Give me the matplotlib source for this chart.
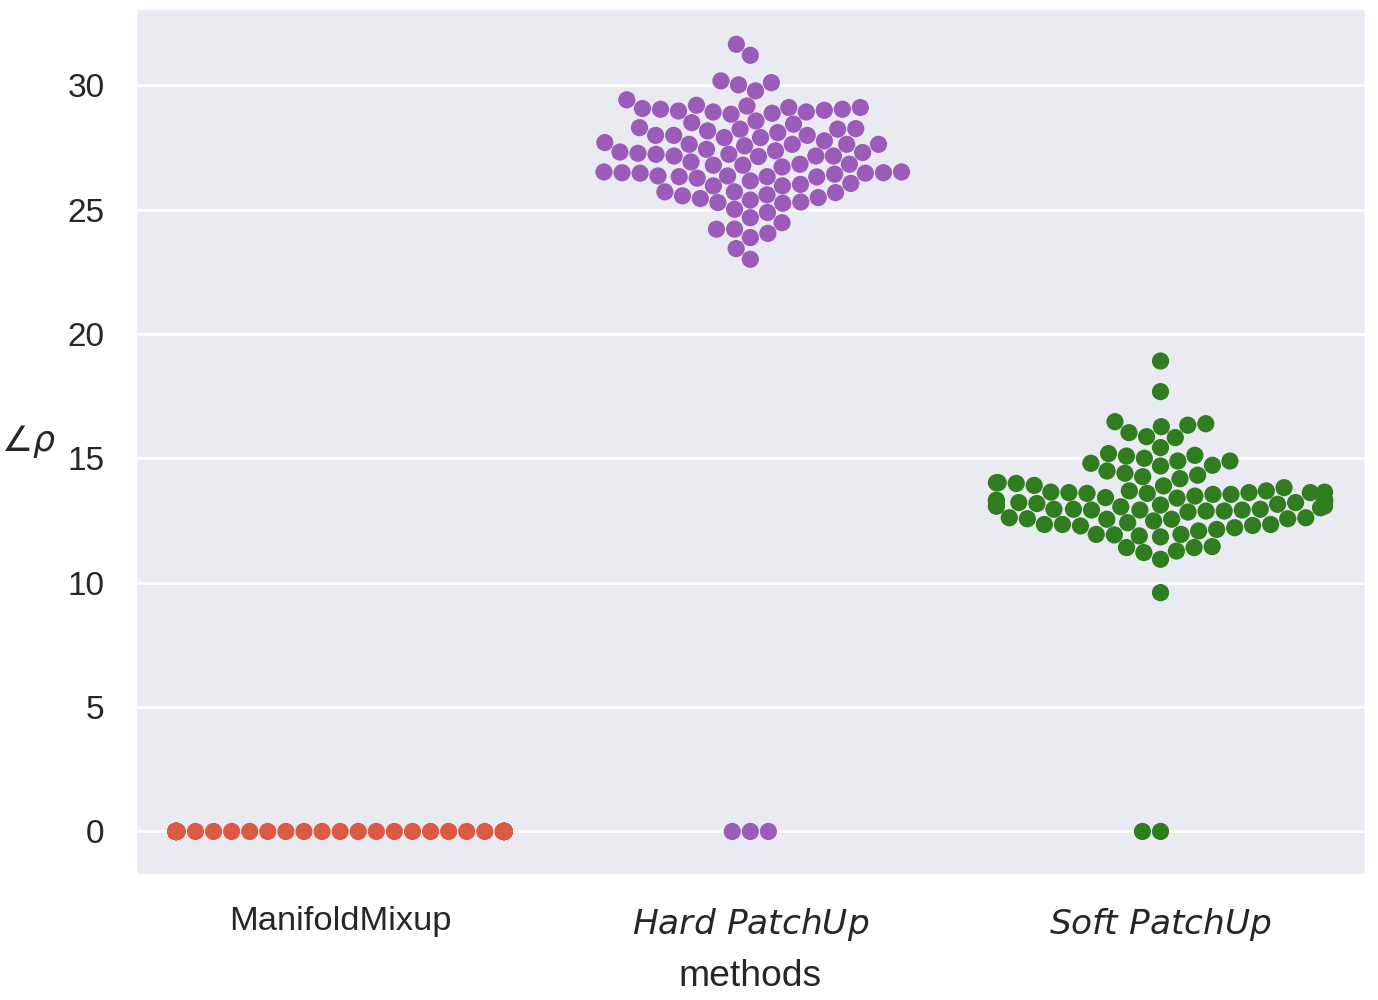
import warnings

import matplotlib
matplotlib.use("Agg")
import matplotlib.pyplot as plt
import pandas as pd
import seaborn as sns

# values
METHODS = ["ManifoldMixup", "Hard PatchUp", "Soft PatchUp"]
TICK_LABELS = ["ManifoldMixup", r"$Hard\ PatchUp$", r"$Soft\ PatchUp$"]
COLORS = ["#da5a45", "#9a5cb8", "#2f7d1e"]

manifold_vals = [0.0] * 100

hard_vals = [
    31.64, 31.20, 30.17, 30.10, 29.77, 30.01,
    29.19, 29.03, 29.03, 29.41, 28.92, 28.87, 29.10, 28.83, 29.10, 28.92,
    28.96, 28.99, 29.06, 29.16,
    28.56, 28.43, 28.49, 28.29, 28.23, 27.98, 28.16, 27.89, 27.76, 28.23,
    27.98, 27.98, 27.89, 28.09, 28.25,
    27.69, 27.36, 27.29, 27.22, 27.62, 27.42, 27.15, 27.15, 27.56, 27.13,
    27.62, 27.22, 27.62, 27.15, 27.26, 27.31, 27.62,
    26.82, 26.48, 26.46, 26.35, 26.32, 26.91, 26.78, 26.26, 26.51, 26.46,
    26.78, 26.42, 26.71, 26.82, 26.15, 26.31, 26.32, 26.35, 26.48, 26.51,
    25.59, 25.48, 25.30, 25.95, 25.28, 25.71, 26.05, 25.38, 25.71, 25.95,
    25.25, 25.44, 25.55, 25.68, 26.01,
    24.88, 24.67, 25.01, 24.47, 24.21, 24.21, 23.87, 24.04, 23.43, 23.00,
    0.0, 0.0, 0.0,
]

soft_vals = [
    18.91, 17.68, 16.47, 16.03, 15.87, 16.33, 15.83, 16.27, 16.39, 15.43,
    15.19, 15.12, 15.00, 14.89, 14.49, 14.80, 14.69, 14.72, 14.89, 15.09,
    14.40, 14.02, 13.91, 13.89, 14.26, 13.82, 14.18, 13.99, 14.32, 14.02,
    13.69, 13.64, 13.35, 12.95, 12.95, 13.28, 13.59, 13.48, 13.42, 13.22,
    13.55, 13.08, 13.22, 13.64, 13.01, 13.32, 13.55, 13.59, 13.62, 13.15,
    13.62, 13.62, 13.69, 13.08, 12.92,
    12.61, 12.55, 13.08, 12.34, 12.95, 12.28, 12.84, 12.14, 12.61, 11.94,
    12.92, 12.34, 12.48, 12.41, 12.57, 12.55, 12.88, 12.88, 12.92, 12.21,
    12.30, 12.34, 12.57,
    11.88, 11.84, 11.92, 12.08, 11.94, 11.41, 11.21, 10.94, 11.27, 11.41,
    11.45, 9.60,
    13.18, 13.05, 13.25, 13.40, 13.28, 13.12,
    0.0, 0.0,
]

Y_TICKS = [0, 5, 10, 15, 20, 25, 30]

sns.set_theme(style="darkgrid")
plt.rcParams["font.family"] = ["Liberation Sans", "DejaVu Sans"]
plt.rcParams["mathtext.fontset"] = "dejavusans"

df = pd.DataFrame({
    "method": ["ManifoldMixup"] * len(manifold_vals)
    + ["Hard PatchUp"] * len(hard_vals)
    + ["Soft PatchUp"] * len(soft_vals),
    "angle": manifold_vals + hard_vals + soft_vals,
})

fig = plt.figure(figsize=(6.89, 5.0), dpi=200)
ax = fig.add_axes([0.098, 0.125, 0.893, 0.867])

# ManifoldMixup has more points than fit in the swarm width -> seaborn warns
with warnings.catch_warnings():
    warnings.simplefilter("ignore")
    sns.swarmplot(
        data=df, x="method", y="angle", hue="method", order=METHODS,
        hue_order=METHODS, palette=COLORS, size=6.2, legend=False, ax=ax,
    )

ax.set_xlim(-0.5, 2.5)
ax.set_ylim(-1.75, 33.1)
ax.set_yticks(Y_TICKS)
ax.set_xticks(range(len(METHODS)))
ax.set_xticklabels(TICK_LABELS)
ax.tick_params(axis="y", labelsize=12, pad=11, length=0)
ax.tick_params(axis="x", labelsize=12.4, pad=11, length=0)
ax.set_xlabel("methods", fontsize=13.4, labelpad=6)
ax.set_ylabel(r"$\angle\rho$", fontsize=12.5, rotation=0, ha="center", va="center")
ax.yaxis.set_label_coords(-0.087, 0.5)

fig.savefig("out.png", dpi=200)
